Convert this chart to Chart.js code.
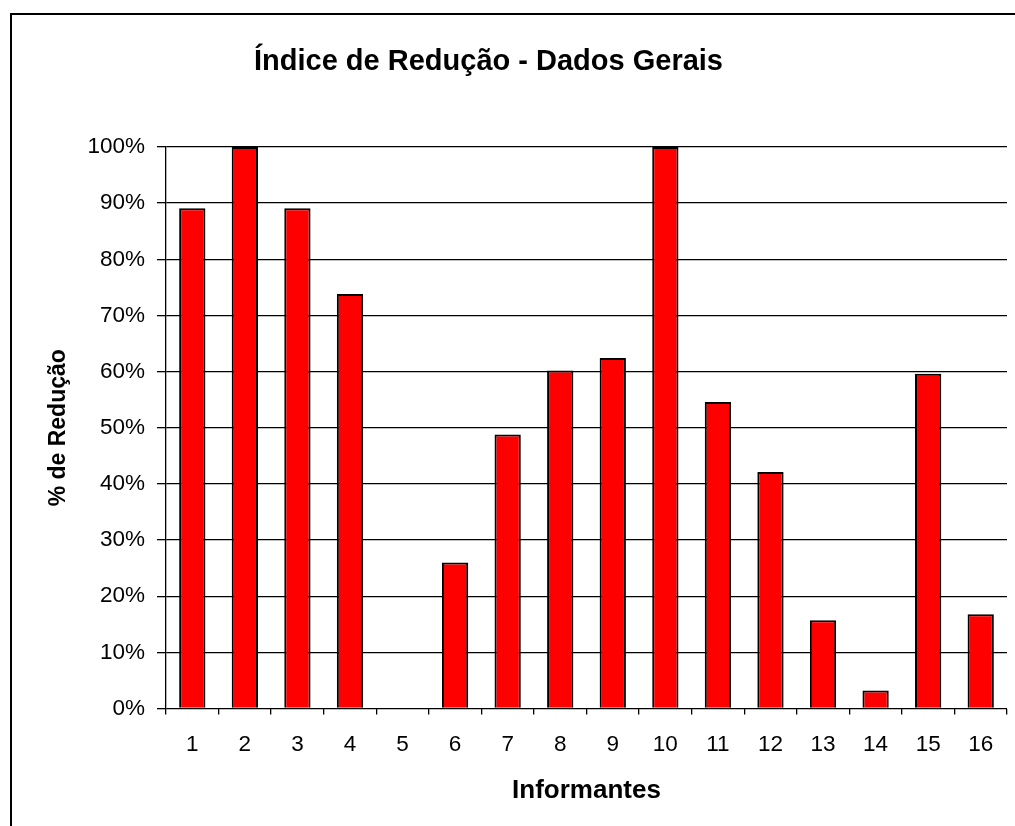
<!DOCTYPE html>
<html>
<head>
<meta charset="utf-8">
<title>Índice de Redução - Dados Gerais</title>
<script src="https://cdn.jsdelivr.net/npm/chart.js@4/dist/chart.umd.min.js"></script>
<style>
  html, body { margin: 0; padding: 0; background: #fff; }
  canvas { display: block; }
</style>
</head>
<body>
<canvas id="reducaoChart" width="1015" height="826"></canvas>
<script>
const chartTitle = "Índice de Redução - Dados Gerais";
const xTitle = "Informantes";
const yTitle = "% de Redução";
const informantes = ["1", "2", "3", "4", "5", "6", "7", "8", "9", "10", "11", "12", "13", "14", "15", "16"];
const reducao = [0.891, 1.0, 0.891, 0.738, 0, 0.260, 0.488, 0.602, 0.624, 1.0, 0.546, 0.421, 0.157, 0.032, 0.596, 0.168];
const yTicks = [0, 0.1, 0.2, 0.3, 0.4, 0.5, 0.6, 0.7, 0.8, 0.9, 1.0];

const fontFamily = '"Liberation Sans", Arial, sans-serif';

// frame + title drawn by hand so the title can sit off-centre like the original
const frameAndTitle = {
    id: "frameAndTitle",
    beforeDraw(chart) {
        const ctx = chart.ctx;
        ctx.save();
        ctx.fillStyle = "#fff";
        ctx.fillRect(0, 0, chart.width, chart.height);
        ctx.strokeStyle = "#000";
        ctx.lineWidth = 2;
        ctx.beginPath();
        ctx.moveTo(11, chart.height + 2);
        ctx.lineTo(11, 14);
        ctx.lineTo(chart.width + 2, 14);
        ctx.stroke();
        ctx.restore();
    },
    afterDraw(chart) {
        const ctx = chart.ctx;
        ctx.save();
        ctx.fillStyle = "#000";
        ctx.font = "bold 29px " + fontFamily;
        ctx.textAlign = "center";
        ctx.textBaseline = "alphabetic";
        ctx.fillText(chartTitle, 488.5, 70);
        ctx.restore();
    }
};

Chart.defaults.color = "#000";
Chart.defaults.font.family = fontFamily;

const ctx = document.getElementById("reducaoChart").getContext("2d");
new Chart(ctx, {
    type: "bar",
    data: {
        labels: informantes,
        datasets: [{
            data: reducao,
            backgroundColor: "#ff0000",
            borderColor: "#000",
            borderWidth: 2,
            categoryPercentage: 0.5,
            barPercentage: 1.0
        }]
    },
    options: {
        responsive: false,
        animation: false,
        layout: { padding: { top: 147, right: 8, bottom: 0, left: 0 } },
        plugins: {
            legend: { display: false },
            tooltip: { enabled: false }
        },
        scales: {
            x: {
                grid: {
                    offset: true,
                    drawOnChartArea: false,
                    drawTicks: true,
                    tickLength: 6,
                    color: "#000",
                    lineWidth: 1.3
                },
                border: { display: false },
                ticks: {
                    padding: 17,
                    font: { size: 22.5 },
                    maxRotation: 0
                },
                title: {
                    display: true,
                    text: xTitle,
                    font: { size: 26, weight: "bold" },
                    padding: { top: 0, bottom: 20 }
                },
                afterFit(scale) {
                    scale.height = 117.5;
                }
            },
            y: {
                min: 0,
                max: 1,
                afterBuildTicks(scale) {
                    scale.ticks = yTicks.map(v => ({ value: v }));
                },
                grid: {
                    color: "#000",
                    lineWidth: 1.3,
                    tickLength: 9
                },
                border: { display: true, color: "#000", width: 1.3 },
                ticks: {
                    padding: 12,
                    font: { size: 22.5 },
                    callback: v => Math.round(v * 100) + "%"
                },
                title: {
                    display: true,
                    text: yTitle,
                    font: { size: 23, weight: "bold" },
                    padding: { top: 45, bottom: 0 }
                },
                afterFit(scale) {
                    scale.width = 166;
                }
            }
        }
    },
    plugins: [frameAndTitle]
});
</script>
</body>
</html>
